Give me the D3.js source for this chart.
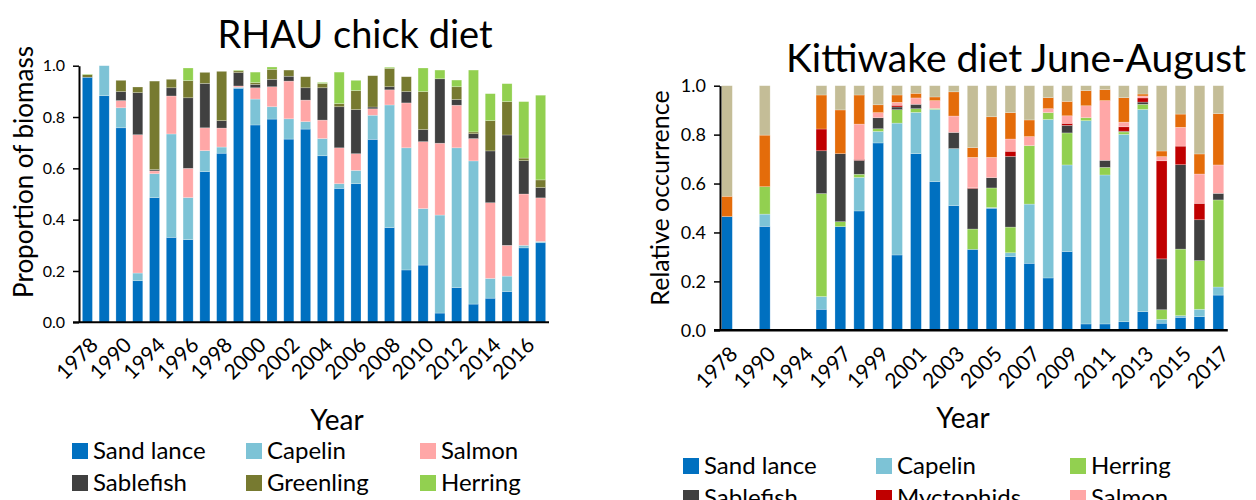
<!DOCTYPE html>
<html>
<head>
<meta charset="utf-8">
<script src="https://cdn.jsdelivr.net/npm/d3@7/dist/d3.min.js"></script>
<style>
  body { margin: 0; background: #fff; }
  svg { display: block; font-family: Lato, "Open Sans", sans-serif; }
  .axis path, .axis line { stroke: #000; }
  .axis text { fill: #000; }
</style>
</head>
<body>
<div id="main"></div>
<script>
// ---- data: left chart (RHAU chick diet, proportion of biomass) ----
var leftYears = ['1978', '1989', '1990', '1993', '1994', '1995', '1996', '1997', '1998', '1999',
	'2000', '2001', '2002', '2003', '2004', '2005', '2006', '2007', '2008', '2009',
	'2010', '2011', '2012', '2013', '2014', '2015', '2016', '2017'];
var leftTickLabels = ['1978', '1990', '1994', '1996', '1998', '2000', '2002', '2004', '2006',
	'2008', '2010', '2012', '2014', '2016'];
var leftSeriesNames = ['Sand lance', 'Capelin', 'Salmon', 'Sablefish', 'Greenling', 'Herring'];

var leftSandLance = [0.955, 0.883, 0.758, 0.162, 0.486, 0.331, 0.322, 0.587, 0.659, 0.912, 0.769, 0.792, 0.714, 0.753, 0.649, 0.522, 0.540, 0.713, 0.369, 0.204, 0.223, 0.036, 0.135, 0.071, 0.094, 0.12, 0.29, 0.31];
var leftCapelin = [0, 0.117, 0.078, 0.030, 0.093, 0.403, 0.164, 0.082, 0.024, 0.004, 0.101, 0.048, 0.079, 0.029, 0.067, 0.018, 0.052, 0.094, 0.478, 0.476, 0.220, 0.382, 0.545, 0.558, 0.077, 0.06, 0.01, 0.005];
var leftSalmon = [0, 0, 0.028, 0.539, 0.011, 0.148, 0.114, 0.089, 0.074, 0.005, 0.044, 0.078, 0.147, 0.084, 0.072, 0.140, 0.065, 0.025, 0.059, 0.175, 0.261, 0.280, 0.166, 0.087, 0.295, 0.12, 0.20, 0.17];
var leftSablefish = [0, 0, 0.035, 0.164, 0.005, 0.032, 0.275, 0.173, 0.029, 0.052, 0.013, 0.029, 0.019, 0.048, 0.126, 0.160, 0.172, 0.007, 0.012, 0.044, 0.047, 0.251, 0.022, 0.019, 0.202, 0.43, 0.13, 0.04];
var leftGreenling = [0.01, 0, 0.044, 0.022, 0.345, 0.033, 0.067, 0.043, 0.192, 0.007, 0.007, 0.039, 0.024, 0.043, 0.017, 0.012, 0.074, 0.122, 0.072, 0.058, 0.148, 0, 0.050, 0.007, 0.118, 0.13, 0.01, 0.03];
var leftHerring = [0.002, 0, 0, 0, 0, 0, 0.049, 0, 0, 0.003, 0.041, 0.009, 0, 0, 0.004, 0.123, 0.040, 0, 0.004, 0, 0.092, 0.034, 0.026, 0.241, 0.105, 0.07, 0.22, 0.33];

// ---- data: right chart (Kittiwake diet June-August, relative occurrence) ----
var rightYears = ['1978', '1989', '1990', '1993', '1994', '1996', '1997', '1998', '1999', '2000',
	'2001', '2002', '2003', '2004', '2005', '2006', '2007', '2008', '2009', '2010',
	'2011', '2012', '2013', '2014', '2015', '2016', '2017'];
var rightTickLabels = ['1978', '1990', '1994', '1997', '1999', '2001', '2003', '2005', '2007',
	'2009', '2011', '2013', '2015', '2017'];
var rightSeriesNames = ['Sand lance', 'Capelin', 'Herring', 'Sablefish', 'Myctophids', 'Salmon', 'Other fish', 'Invertebrates'];

var rightSandLance = [0.465, 0, 0.425, 0, 0, 0.086, 0.424, 0.488, 0.766, 0.308, 0.722, 0.608, 0.510, 0.331, 0.499, 0.301, 0.274, 0.214, 0.322, 0.026, 0.026, 0.035, 0.076, 0.029, 0.053, 0.056, 0.144];
var rightCapelin = [0, 0, 0.05, 0, 0, 0.052, 0, 0.137, 0.047, 0.539, 0.169, 0.295, 0.233, 0, 0.003, 0.016, 0.242, 0.648, 0.354, 0.831, 0.609, 0.766, 0.827, 0.016, 0.007, 0.030, 0.033];
var rightHerring = [0, 0, 0.112, 0, 0, 0.421, 0.02, 0.013, 0.011, 0.055, 0.015, 0.004, 0, 0.083, 0.080, 0.105, 0.239, 0.028, 0.131, 0.012, 0.031, 0.010, 0.021, 0.039, 0.272, 0.199, 0.356];
var rightSablefish = [0, 0, 0, 0, 0, 0.175, 0.278, 0.057, 0.045, 0.011, 0.018, 0, 0.066, 0.166, 0.042, 0.289, 0, 0, 0.031, 0, 0.029, 0.003, 0.009, 0.208, 0.345, 0.167, 0.027];
var rightMyctophids = [0, 0, 0, 0, 0, 0.089, 0, 0.004, 0, 0.007, 0, 0, 0, 0.003, 0, 0.021, 0, 0, 0.008, 0, 0, 0.018, 0.017, 0.401, 0.076, 0.067, 0];
var rightSalmon = [0, 0, 0, 0, 0, 0, 0, 0.144, 0.021, 0.012, 0.026, 0.032, 0.067, 0.124, 0.083, 0.050, 0.037, 0.016, 0.031, 0.049, 0.244, 0.019, 0.008, 0.017, 0.077, 0.120, 0.116];
var rightOtherFish = [0.083, 0, 0.211, 0, 0, 0.139, 0.179, 0.119, 0.032, 0.030, 0.019, 0.015, 0.099, 0.040, 0.166, 0.108, 0.068, 0.045, 0.059, 0.062, 0.045, 0.100, 0.008, 0.023, 0.054, 0.082, 0.210];
var rightInvertebrates = [0.452, 0, 0.202, 0, 0, 0.038, 0.099, 0.038, 0.078, 0.038, 0.031, 0.046, 0.025, 0.253, 0.127, 0.110, 0.140, 0.049, 0.064, 0.020, 0.016, 0.049, 0.034, 0.267, 0.116, 0.279, 0.114];

var leftColors = ['#0070C0', '#7DC3D6', '#FFA7A7', '#404040', '#777A30', '#92D050'];
var rightColors = ['#0070C0', '#7DC3D6', '#92D050', '#404040', '#C00000', '#FFA7A7', '#E46C0A', '#C4BD97'];

var svgWidth = 1256;
var svgHeight = 500;

var svg = d3.select('#main')
	.append('svg')
	.attr('width', svgWidth)
	.attr('height', svgHeight);

// build rows for d3.stack from the series arrays
function buildRows(years, names, arrays) {
	return years.map(function(year, i) {
		var row = {year: year};
		names.forEach(function(name, j) { row[name] = arrays[j][i]; });
		return row;
	});
}

function drawChart(cfg) {
	var g = svg.append('g');

	var x = d3.scaleBand()
		.domain(cfg.years)
		.range([cfg.x0, cfg.x1])
		.paddingInner(cfg.pad)
		.paddingOuter(cfg.pad / 2);

	var y = d3.scaleLinear().domain([0, 1]).range([cfg.y0, cfg.y1]);

	var color = d3.scaleOrdinal().domain(cfg.names).range(cfg.colors);

	var stacked = d3.stack().keys(cfg.names)(buildRows(cfg.years, cfg.names, cfg.arrays));

	g.selectAll('.layer')
		.data(stacked)
		.enter()
		.append('g')
		.attr('class', 'layer')
		.attr('fill', function(d) { return color(d.key); })
		.selectAll('rect')
		.data(function(d) { return d.filter(function(s) { return s[1] - s[0] > 0; }); })
		.enter()
		.append('rect')
		.attr('x', function(d) { return x(d.data.year); })
		.attr('width', x.bandwidth())
		.attr('y', function(d) { return y(d[1]); })
		.attr('height', function(d) { return y(d[0]) - y(d[1]); })
		.attr('stroke', '#fff')
		.attr('stroke-opacity', 0.4)
		.attr('stroke-width', 0.6);

	// y-axis
	var yAxis = d3.axisLeft(y)
		.tickValues([0, 0.2, 0.4, 0.6, 0.8, 1.0])
		.tickFormat(d3.format('.1f'))
		.tickSize(6)
		.tickSizeOuter(0)
		.tickPadding(cfg.tickPad);

	g.append('g')
		.attr('class', 'axis')
		.attr('transform', 'translate(' + cfg.axisX + ',0)')
		.call(yAxis)
		.call(function(a) {
			a.select('.domain').attr('stroke-width', 2);
			a.selectAll('.tick line').attr('stroke-width', 1.5);
			a.selectAll('text').style('font-size', cfg.yTickFont + 'px').style('font-family', 'Lato, sans-serif');
		});

	// x-axis
	var xAxis = d3.axisBottom(x)
		.tickValues(cfg.years.filter(function(d) { return cfg.tickLabels.indexOf(d) >= 0; }))
		.tickSize(0)
		.tickSizeOuter(0);

	var xg = g.append('g')
		.attr('class', 'axis')
		.attr('transform', 'translate(0,' + cfg.y0 + ')')
		.call(xAxis);
	xg.select('.domain').remove();
	xg.selectAll('text')
		.style('font-size', cfg.xTickFont + 'px')
		.style('font-family', 'Lato, sans-serif')
		.attr('text-anchor', 'end')
		.attr('dy', null)
		.attr('y', 0)
		.attr('transform', 'translate(12,' + cfg.xTickDrop + ') rotate(-45)');

	g.append('line')
		.attr('x1', cfg.axisX - 6)
		.attr('x2', cfg.x1)
		.attr('y1', cfg.y0)
		.attr('y2', cfg.y0)
		.attr('stroke', '#000')
		.attr('stroke-width', cfg.xAxisWidth);

	// title
	g.append('text')
		.attr('x', cfg.titleX)
		.attr('y', cfg.titleY)
		.attr('text-anchor', 'middle')
		.style('font-size', cfg.titleFont + 'px')
		.text(cfg.title);

	// axis labels
	g.append('text')
		.attr('transform', 'translate(' + cfg.yLabelX + ',' + cfg.yLabelY + ') rotate(-90)')
		.attr('text-anchor', 'middle')
		.style('font-size', cfg.yLabelFont + 'px')
		.text(cfg.yLabel);

	g.append('text')
		.attr('x', cfg.xLabelX)
		.attr('y', cfg.xLabelY)
		.attr('text-anchor', 'middle')
		.style('font-size', '28px')
		.text('Year');

	// legend, three columns
	var legend = g.selectAll('.legend-item')
		.data(cfg.names)
		.enter()
		.append('g')
		.attr('class', 'legend-item')
		.attr('transform', function(d, i) {
			return 'translate(' + cfg.legendCols[i % 3] + ',' + (cfg.legendY + Math.floor(i / 3) * cfg.legendRowH) + ')';
		});
	legend.append('rect')
		.attr('x', 0)
		.attr('y', -16)
		.attr('width', 16)
		.attr('height', 16)
		.attr('fill', function(d) { return color(d); });
	legend.append('text')
		.attr('x', 21)
		.attr('y', 0)
		.style('font-size', '24px')
		.text(function(d) { return d; });
}

drawChart({
	years: leftYears,
	tickLabels: leftTickLabels,
	names: leftSeriesNames,
	arrays: [leftSandLance, leftCapelin, leftSalmon, leftSablefish, leftGreenling, leftHerring],
	colors: leftColors,
	x0: 79, x1: 549, pad: 0.4,
	y0: 322.3, y1: 65.7,
	axisX: 79, tickPad: 8, yTickFont: 16, xTickFont: 21, xTickDrop: 24, xAxisWidth: 2,
	title: 'RHAU chick diet', titleX: 355, titleY: 48, titleFont: 38,
	yLabel: 'Proportion of biomass', yLabelX: 33, yLabelY: 172, yLabelFont: 26,
	xLabelX: 337, xLabelY: 430,
	legendCols: [72, 246, 420], legendY: 459, legendRowH: 32
});

drawChart({
	years: rightYears,
	tickLabels: rightTickLabels,
	names: rightSeriesNames,
	arrays: [rightSandLance, rightCapelin, rightHerring, rightSablefish, rightMyctophids, rightSalmon, rightOtherFish, rightInvertebrates],
	colors: rightColors,
	x0: 717.5, x1: 1227.8, pad: 0.43,
	y0: 330.3, y1: 85.7,
	axisX: 720, tickPad: 8, yTickFont: 18, xTickFont: 21, xTickDrop: 25, xAxisWidth: 2.5,
	title: 'Kittiwake diet June-August', titleX: 1016, titleY: 72, titleFont: 39,
	yLabel: 'Relative occurrence', yLabelX: 669, yLabelY: 198, yLabelFont: 25,
	xLabelX: 963, xLabelY: 428,
	legendCols: [683, 876, 1070], legendY: 474, legendRowH: 32
});
</script>
</body>
</html>
